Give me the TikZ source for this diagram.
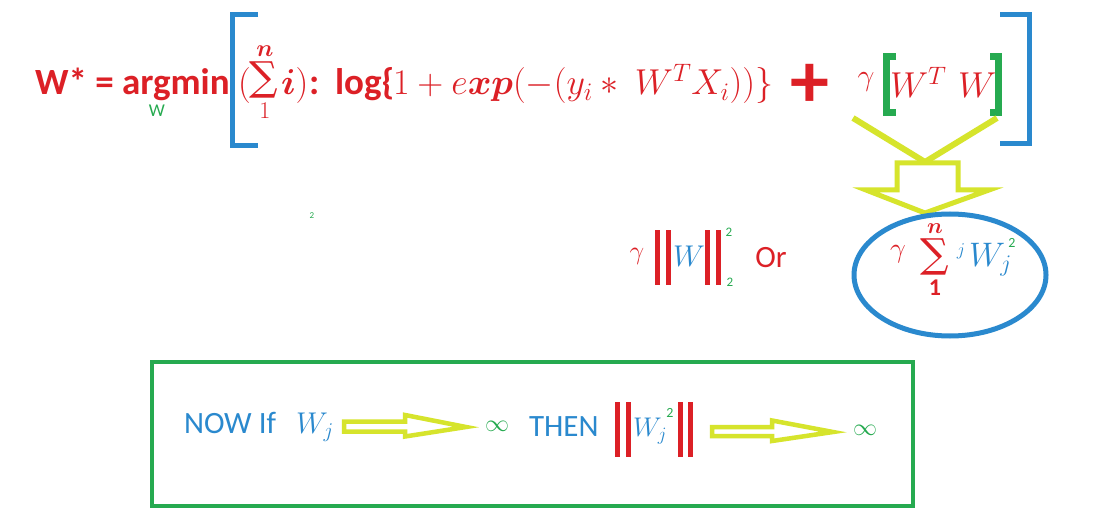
\RequirePackage{fix-cm}
\documentclass[tikz,border=0pt]{standalone}
\usepackage{amsmath}
\usepackage{fontspec}
\setmainfont{Carlito}
\newfontfamily\sumfont{DejaVu Serif}
\usetikzlibrary{shapes.geometric}
\definecolor{rd}{RGB}{220,32,38}
\definecolor{bl}{RGB}{42,137,206}
\definecolor{gr}{RGB}{38,170,80}
\definecolor{yl}{RGB}{214,228,44}
\newcommand{\fs}[1]{\fontsize{#1}{#1}\selectfont}
\tikzset{
  txt/.style={inner sep=0pt, outer sep=0pt},
  redt/.style={txt, text=rd},
  bluet/.style={txt, text=bl},
  greent/.style={txt, text=gr},
  bluebr/.style={draw=bl, line width=5pt},
  greenbr/.style={draw=gr, line width=7pt},
  normbar/.style={draw=rd, line width=5pt},
  fatarrow/.style={draw=yl, line width=4.5pt, fill=white, line join=miter},
}
\begin{document}
\begin{tikzpicture}[x=1pt,y=-1pt]
\useasboundingbox[fill=white] (0,0) rectangle (1116,513);
% ---------- top formula ----------
\node[redt, anchor=base west, font=\fs{37}\bfseries] (wstar) at (35,95) {W* = argmin};
\node[greent, font=\fs{18}] (wsub) at (157,111) {W};
\draw[bluebr] (258,15) -- (232.5,15) -- (232.5,146) -- (258,146);
\node[redt, anchor=base west, font=\fs{36}] (lpar) at (238,95) {$($};
\node[redt, font=\sumfont\fs{40}] (sig) at (263.5,80) {∑};
\node[redt, font=\fs{24}] (sign) at (265,51) {$\boldsymbol{n}$};
\node[redt, font=\fs{24}] (sig1) at (265,111) {$1$};
\node[redt, anchor=base west, font=\fs{36}] (ipar) at (281,95) {$\boldsymbol{i})$};
\node[redt, anchor=base west, font=\fs{37}\bfseries] (colon) at (309,95) {:};
\node[redt, anchor=base west, font=\fs{37}\bfseries] (logw) at (335,95) {log\{};
\node[redt, anchor=base west, font=\fs{36}] (expr) at (393,95) {$1 \mathbin{+} e\boldsymbol{xp}(-(y_i \ast\ W^T X_i))\}$};
\node[txt, text=rd, font=\fs{78}\bfseries] (plus) at (810,86) {+};
\node[redt, font=\fs{30}] (gam) at (866,82) {$\gamma$};
\draw[greenbr] (896,57) -- (886.5,57) -- (886.5,113) -- (896,113);
\node[redt, anchor=base west, font=\fs{36}] (wt) at (890,98) {$W^T$};
\node[redt, anchor=base west, font=\fs{36}] (w2) at (958,98) {$W$};
\draw[greenbr] (990,57) -- (998,57) -- (998,113) -- (990,113);
\draw[bluebr] (1000,15) -- (1029,15) -- (1029,144) -- (1000,144);
% ---------- down arrow ----------
\coordinate (vl) at (853,118);
\coordinate (vr) at (997,118);
\coordinate (vm) at (925,162);
\draw[draw=yl, line width=6pt] (vl) -- (vm) -- (vr);
\draw[fatarrow, line width=5pt] (897,163) -- (958,163) -- (958,190) -- (989,190) -- (925,213) -- (866,190) -- (897,190) -- cycle;
% ---------- middle row ----------
\node[greent, font=\fs{9}] (stray) at (312,216) {2};
\node[redt, font=\fs{26}] (g2) at (637,256) {$\gamma$};
\draw[normbar] (657,230) -- (657,285);
\draw[normbar] (668,230) -- (668,285);
\node[bluet, font=\fs{30}] (wn) at (689,256) {$W$};
\draw[normbar] (707.5,230) -- (707.5,285);
\draw[normbar] (718.5,230) -- (718.5,285);
\node[greent, font=\fs{13}] (sup2) at (729,232) {2};
\node[greent, font=\fs{13}] (sub2) at (730,282) {2};
\node[redt, font=\fs{31}] (or) at (771,258) {Or};
\node[draw=bl, line width=5pt, ellipse, minimum width=192pt, minimum height=122pt] (ell) at (950,275) {};
\node[redt, font=\fs{28}] (g3) at (898,254) {$\gamma$};
\node[redt, font=\sumfont\fs{40}] (esum) at (935,257) {∑};
\node[redt, font=\fs{22}] (esumn) at (935,229) {$\boldsymbol{n}$};
\node[redt, font=\fs{24}] (esum1) at (935,288) {$\mathbf{1}$};
\node[bluet, font=\fs{18}] (ej) at (961,251) {$j$};
\node[bluet, font=\fs{34}, anchor=base west] (ewj) at (969,266) {$W_j$};
\node[greent, font=\fs{14}] (ew2) at (1012,243) {2};
% ---------- bottom box ----------
\node[draw=gr, line width=4pt, minimum width=761pt, minimum height=144pt] (box) at (532.5,434) {};
\node[bluet, font=\fs{31}, anchor=base west] (now) at (184,433) {NOW If};
\node[bluet, font=\fs{30}, anchor=base west] (wj1) at (296,433) {$W_j$};
\draw[fatarrow] (344,421.5) -- (405,421.5) -- (405,415) -- (466,427) -- (405,436.5) -- (405,431.5) -- (344,431.5) -- cycle;
\node[greent, font=\fs{24}] (inf1) at (497,426) {$\infty$};
\node[bluet, font=\fs{31}, anchor=base west] (then) at (529,436) {THEN};
\draw[normbar] (617.5,402) -- (617.5,457);
\draw[normbar] (628.5,402) -- (628.5,457);
\node[bluet, font=\fs{27}, anchor=base west] (wj2) at (633,436) {$W_j$};
\node[greent, font=\fs{14}] (wj2s) at (670,413) {2};
\draw[normbar] (680,402) -- (680,457);
\draw[normbar] (690.5,402) -- (690.5,457);
\draw[fatarrow] (712,427) -- (772,427) -- (772,420.5) -- (833,432) -- (772,441) -- (772,436) -- (712,436) -- cycle;
\node[greent, font=\fs{24}] (inf2) at (865,430) {$\infty$};
\end{tikzpicture}
\end{document}
